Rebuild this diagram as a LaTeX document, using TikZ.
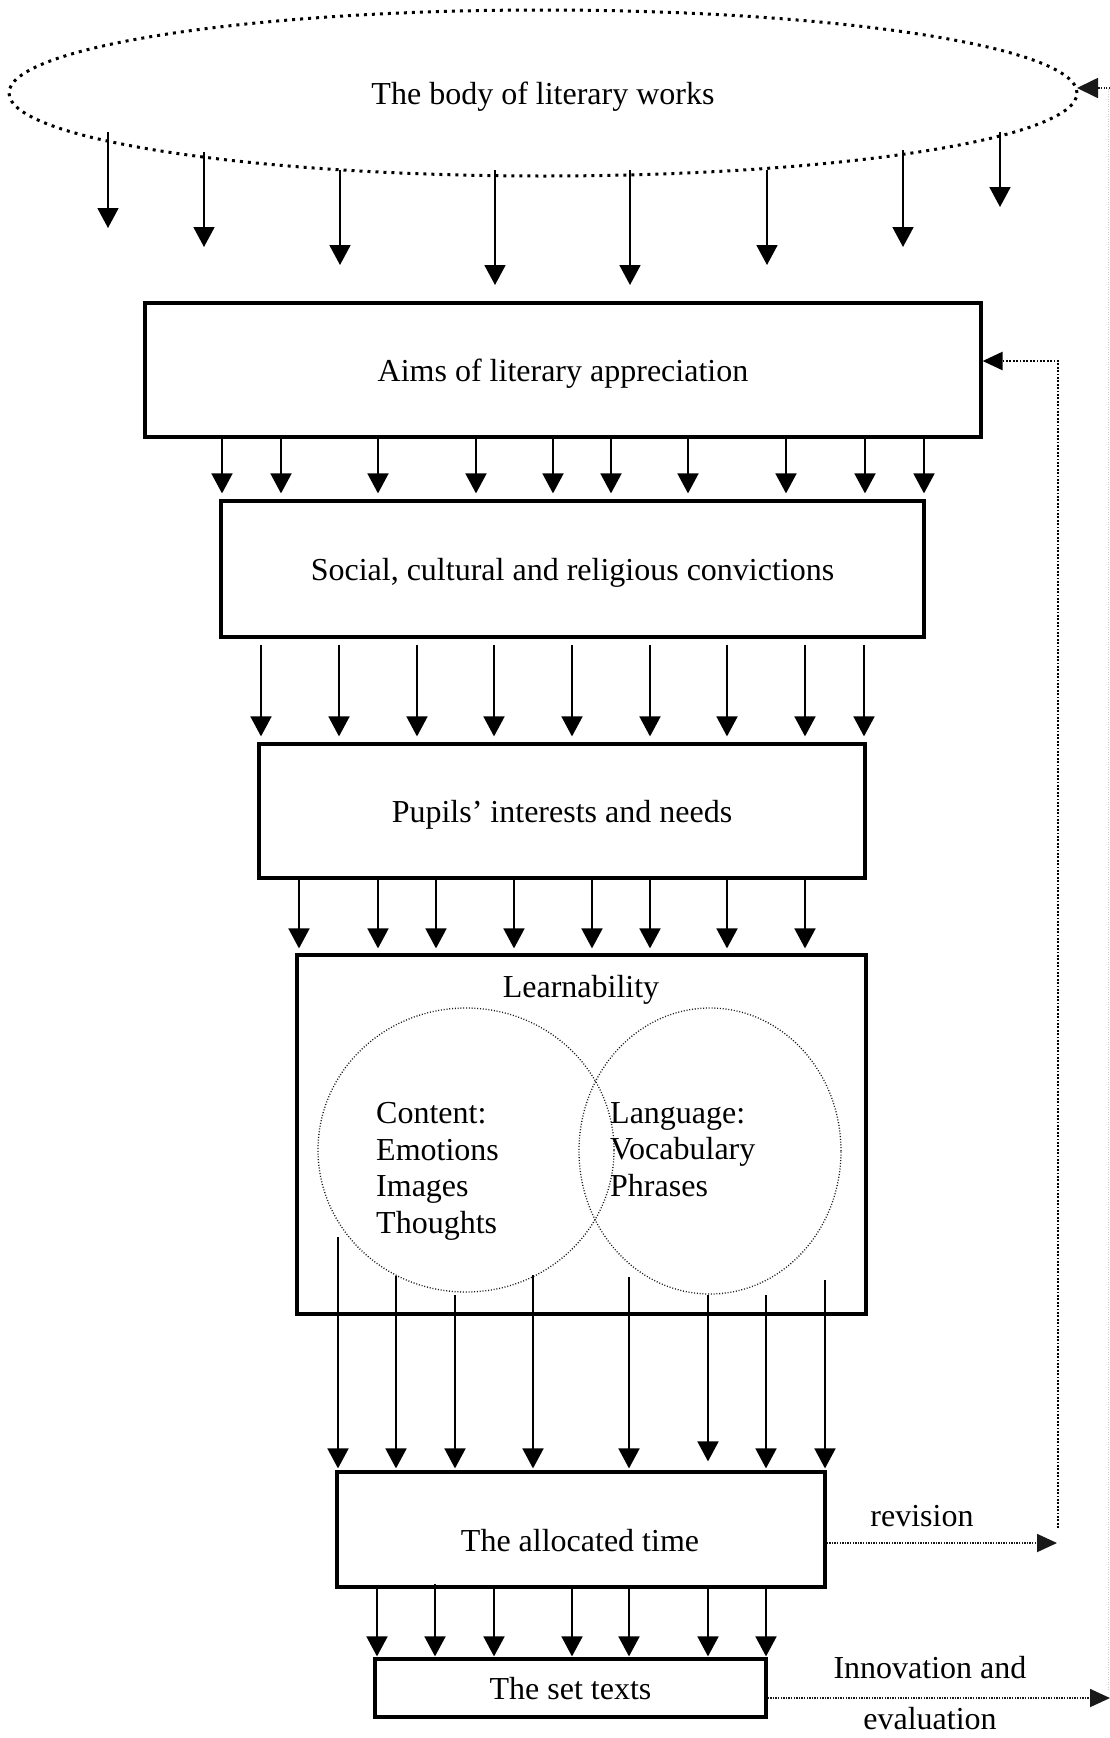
\documentclass[tikz,border=0pt]{standalone}
\usepackage{fontspec}
\setmainfont{Liberation Serif}
\usetikzlibrary{arrows.meta,shapes.geometric,calc}
\begin{document}
\begin{tikzpicture}[x=1pt,y=-1pt,
  every node/.style={font=\fontsize{32}{36.7}\selectfont, inner sep=0pt},
  box/.style={draw, line width=3.2pt, rectangle, text depth=0pt},
  arr/.style={line width=1.8pt, -{Triangle[width=21pt,length=20pt]}},
  fbthick/.style={line width=2.6pt, dash pattern=on 1.8pt off 1.6pt, black},
  fbthin/.style={line width=1.8pt, dash pattern=on 1.3pt off 1.3pt, black!90},
  fbtip/.style={-{Triangle[width=18pt,length=20pt]}},
  venn/.style={draw, ellipse, line width=1.3pt, dash pattern=on 1pt off 1.8pt, black!90}
]
\useasboundingbox (0,0) rectangle (1110,1738);

% ---- nodes ----
\node[draw, ellipse, line width=3pt, dash pattern=on 3pt off 5pt, text depth=0pt,
      minimum width=1068pt, minimum height=166pt] (body) at (543,93) {The body of literary works};
\node[box, minimum width=836pt, minimum height=134pt] (aims) at (563,370) {Aims of literary appreciation};
\node[box, minimum width=703pt, minimum height=136pt] (social) at (572.5,569) {Social, cultural and religious convictions};
\node[box, minimum width=606pt, minimum height=134pt] (pupils) at (562,811) {Pupils’ interests and needs};
\node[box, minimum width=569pt, minimum height=359pt] (learn) at (581.5,1134.5) {};
\node (learnlbl) at (581,990) {Learnability};
\node[venn, minimum width=296pt, minimum height=284pt] (content) at (466,1150) {};
\node[venn, minimum width=262pt, minimum height=286pt] (language) at (710,1151) {};
\node[anchor=north west, align=left] (contenttxt) at (376,1102) {Content:\\Emotions\\Images\\Thoughts};
\node[anchor=north west, align=left] (languagetxt) at (610,1102) {Language:\\Vocabulary\\Phrases};
\node[box, minimum width=488pt, minimum height=115pt] (alloc) at (581,1529.5) {};
\node[text depth=0pt] (alloctxt) at (580,1540) {The allocated time};
\node[box, minimum width=391pt, minimum height=58pt] (set) at (570.5,1688) {The set texts};
\node (revlbl) at (922,1516) {revision};
\node (innlbl) at (930,1668) {Innovation and};
\node (evallbl) at (930,1719) {evaluation};

% ---- arrows from the body of literary works ----
\foreach \x/\ys/\ye [count=\i] in {108/132/228, 204/152/247, 340/170/265, 495/170/285,
                                  630/170/285, 767/170/265, 903/150/247, 1000/132/207}{
  \path (\x,\ys) coordinate (bs\i) (\x,\ye) coordinate (be\i);
  \draw[arr] (bs\i) -- (be\i);
}

% ---- aims -> social ----
\foreach \x in {222,281,378,476,553,611,688,786,865,924}
  \draw[arr, shorten >=6pt] (\x,0 |- aims.south) -- (\x,0 |- social.north);

% ---- social -> pupils ----
\foreach \x in {261,339,417,494,572,650,727,805,864}
  \draw[arr, shorten <=6pt, shorten >=6pt] (\x,0 |- social.south) -- (\x,0 |- pupils.north);

% ---- pupils -> learnability ----
\foreach \x in {299,378,436,514,592,650,727,805}
  \draw[arr, shorten >=5pt] (\x,0 |- pupils.south) -- (\x,0 |- learn.north);

% ---- learnability -> allocated time ----
\foreach \x/\ys/\sh [count=\i] in {338/1237/2, 396/1276/2, 455/1295/2, 533/1275/2,
                                  629/1277/2, 708/1295/9, 766/1295/2, 825/1280/2}{
  \path (\x,\ys) coordinate (ls\i);
  \draw[arr, shorten >=\sh pt] (ls\i) -- (\x,0 |- alloc.north);
}

% ---- allocated time -> set texts ----
\foreach \x/\sh in {377/0, 435/-5, 494/0, 572/0, 629/0, 708/0, 766/0}
  \draw[arr, shorten <=\sh pt, shorten >=1pt] (\x,0 |- alloc.south) -- (\x,0 |- set.north);

% ---- feedback loops ----
\coordinate (revstart) at (alloc.east |- 0,1543);
\coordinate (revend) at (1057,1543);
\draw[fbthin, fbtip] (revstart) -- (revend);
\coordinate (fbA) at (1058,1528);
\coordinate (fbB) at (1058,361);
\draw[fbthick, fbtip] (fbA) -- (fbB) -- (fbB -| aims.east);

\coordinate (innstart) at (set.east |- 0,1698);
\coordinate (innend) at (1110,1698);
\draw[fbthin, fbtip] (innstart) -- (innend);
\coordinate (edgeB) at (1108.5,1690);
\coordinate (edgeT) at (1108.5,88);
\draw[black!20, line width=1pt, dash pattern=on 1pt off 1.5pt] (edgeB) -- (edgeT);
\coordinate (bodyin) at (1077,88);
\draw[fbthin, -{Triangle[width=20pt,length=21pt]}] (1110,88) -- (bodyin);
\end{tikzpicture}
\end{document}
